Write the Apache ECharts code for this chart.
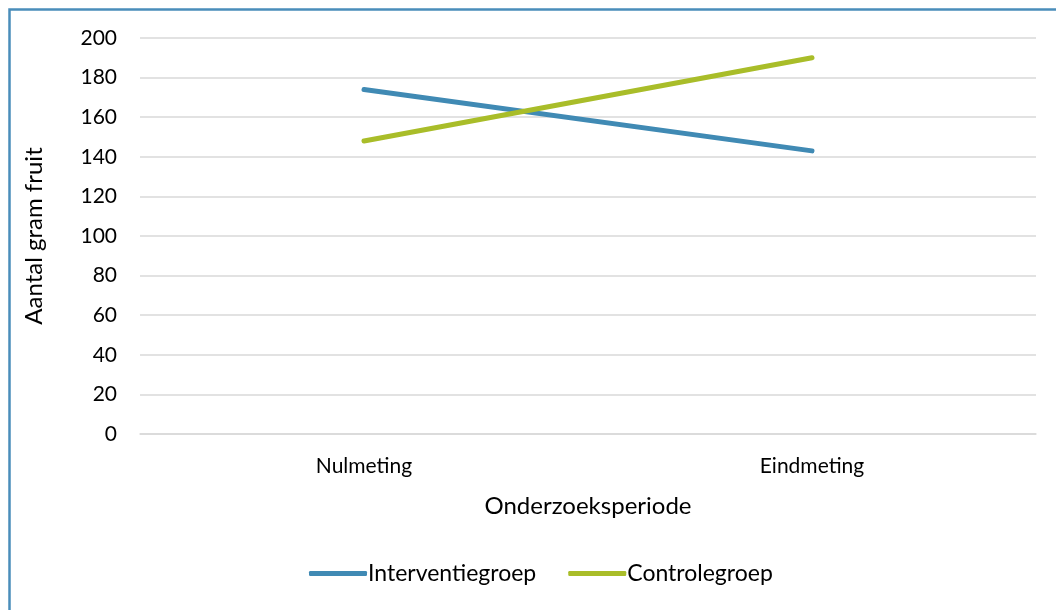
<!DOCTYPE html>
<html>
<head>
<meta charset="utf-8">
<script src="https://cdn.jsdelivr.net/npm/echarts@6/dist/echarts.min.js"></script>
<style>
  html, body { margin: 0; padding: 0; background: #fff; }
  #chart { width: 1056px; height: 610px; }
</style>
</head>
<body>
<div id="chart"></div>
<script>
// Fruit intake (grams) per group, baseline vs. end measurement
const categories = ['Nulmeting', 'Eindmeting'];
const interventie = [174, 143];
const controle = [148, 190];
const seriesNames = ['Interventiegroep', 'Controlegroep'];

const FONT = 'Lato, "Open Sans", sans-serif';
const chart = echarts.init(document.getElementById('chart'), null, { renderer: 'canvas' });

chart.setOption({
  animation: false,
  backgroundColor: '#fff',
  textStyle: { fontFamily: FONT, color: '#000' },
  graphic: [{
    type: 'rect',
    left: 7, top: 7,
    shape: { width: 1200, height: 800 },
    style: { fill: 'none', stroke: '#4A8DBA', lineWidth: 2.5 },
    silent: true
  }],
  grid: { left: 140, right: 20, top: 38, bottom: 176, containLabel: false },
  legend: {
    bottom: 20,
    left: 304,
    itemGap: 32,
    itemWidth: 58,
    itemHeight: 5,
    icon: 'roundRect',
    textStyle: { fontFamily: FONT, fontSize: 23, color: '#000', padding: [0, 0, 0, -4] },
    data: seriesNames
  },
  xAxis: {
    type: 'category',
    data: categories,
    boundaryGap: true,
    axisLine: { show: true, lineStyle: { color: '#D9D9D9', width: 1.5 } },
    axisTick: { show: false },
    axisLabel: { fontFamily: FONT, fontSize: 21, color: '#000', margin: 22 },
    name: 'Onderzoeksperiode',
    nameLocation: 'middle',
    nameGap: 60,
    nameTextStyle: { fontFamily: FONT, fontSize: 24, color: '#000' }
  },
  yAxis: {
    type: 'value',
    min: 0, max: 200, interval: 20,
    axisLine: { show: false },
    axisTick: { show: false },
    splitLine: { lineStyle: { color: '#D9D9D9', width: 1.5 } },
    axisLabel: { fontFamily: FONT, fontSize: 21, color: '#000', margin: 23 },
    name: 'Aantal gram fruit',
    nameLocation: 'middle',
    nameGap: 94,
    nameRotate: 90,
    nameTextStyle: { fontFamily: FONT, fontSize: 24, color: '#000' }
  },
  series: [
    {
      name: seriesNames[0], type: 'line', data: interventie,
      symbol: 'none', color: '#408AB4',
      lineStyle: { width: 5, cap: 'round', color: '#408AB4' }
    },
    {
      name: seriesNames[1], type: 'line', data: controle,
      symbol: 'none', color: '#A9BD29',
      lineStyle: { width: 5, cap: 'round', color: '#A9BD29' }
    }
  ]
});
</script>
</body>
</html>
